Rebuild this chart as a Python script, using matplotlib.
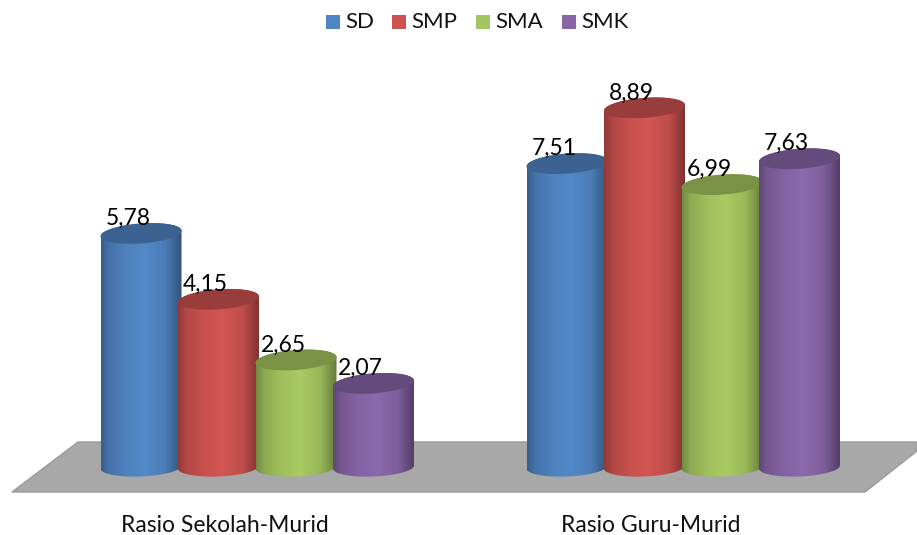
#!/usr/bin/env python3
"""Rasio sekolah-murid dan guru-murid, 3D style cylinder bars."""

import numpy as np
import matplotlib
matplotlib.use("Agg")
import matplotlib.pyplot as plt
from matplotlib.colors import LinearSegmentedColormap, to_rgb
from matplotlib.patches import Polygon, Rectangle

plt.rcParams['font.family'] = ['Lato', 'DejaVu Sans']

groups = ["Rasio Sekolah-Murid", "Rasio Guru-Murid"]
series = ["SD", "SMP", "SMA", "SMK"]
sekolah_murid = [5.78, 4.15, 2.65, 2.07]
guru_murid = [7.51, 8.89, 6.99, 7.63]
labels_sekolah = ["5,78", "4,15", "2,65", "2,07"]
labels_guru = ["7,51", "8,89", "6,99", "7,63"]
colors = ["#5085c4", "#cd5350", "#a3c55f", "#8965a8"]

W, H = 917, 535
BASE_PX = 467      # pixel row of value 0
PX_PER_UNIT = 40.4
RX, RY_TOP, RY_BOT = 40.5, 10, 9.5


def val(py):
	"""Pixel row to value on the y axis."""
	return (BASE_PX - py) / PX_PER_UNIT


def shade(color, f):
	r = np.array(to_rgb(color)) * f
	return tuple(np.clip(r, 0, 1))


def draw_cylinder(ax, cx, value, color, z):
	"""One cylinder: gradient body clipped to the outline, flat darker cap."""
	top = BASE_PX - value * PX_PER_UNIT
	t_up = np.linspace(np.pi, 2 * np.pi, 60)
	t_down = np.linspace(0, np.pi, 60)

	# upper arc of the top ellipse, lower arc of the bottom one
	x_top = cx + RX * np.cos(t_up)
	y_top = top + RY_TOP * np.sin(t_up) - 0.07 * RX * np.cos(t_up)
	x_bot = cx + RX * np.cos(t_down)
	y_bot = BASE_PX + RY_BOT * np.sin(t_down) - 0.04 * RX * np.cos(t_down)
	body = np.column_stack([np.r_[x_top, x_bot], val(np.r_[y_top, y_bot])])

	cmap = LinearSegmentedColormap.from_list("c", [
		(0.0, shade(color, 0.7)), (0.1, shade(color, 0.86)),
		(0.3, shade(color, 0.97)), (0.55, shade(color, 1.03)),
		(0.8, shade(color, 0.93)), (1.0, shade(color, 0.62))])
	im = ax.imshow(np.linspace(0, 1, 128)[None, :], cmap=cmap, aspect='auto',
				   extent=[cx - RX, cx + RX, val(BASE_PX + 14), val(top - 14)],
				   zorder=z)
	clip = Polygon(body, closed=True, transform=ax.transData)
	im.set_clip_path(clip)

	# cap
	t = np.linspace(0, 2 * np.pi, 120)
	x_cap = cx + RX * np.cos(t)
	y_cap = top + RY_TOP * np.sin(t) - 0.07 * RX * np.cos(t)
	ax.add_patch(Polygon(np.column_stack([x_cap, val(y_cap)]), closed=True,
						 facecolor=shade(color, 0.74), edgecolor='none',
						 zorder=z + 0.1))


fig = plt.figure(figsize=(W / 100, H / 100), dpi=100)
ax = fig.add_axes([0, 0, 1, 1])

# floor
floor = [(12, 492), (865, 492), (917, 451), (917, 442), (78, 442)]
ax.add_patch(Polygon([(x, val(y)) for x, y in floor], closed=True,
					 facecolor='#a8a8a8', edgecolor='#9a9a9a', linewidth=1.0,
					 zorder=1))

group_left = [141, 567]
step = 77.5
for g, (values, labels) in enumerate([(sekolah_murid, labels_sekolah),
									  (guru_murid, labels_guru)]):
	for i, (v, lab) in enumerate(zip(values, labels)):
		cx = group_left[g] + i * step
		draw_cylinder(ax, cx, v, colors[i], 2 + i)
		ax.text(cx - 13, v + 15 / PX_PER_UNIT, lab, fontsize=16.5, color='black',
				ha='center', va='center', zorder=10)
	ax.text(225 + g * 425.5, val(525), groups[g], fontsize=16.5, color='#111111',
			ha='center', va='center', zorder=10)

# legend
legend_x = [326, 392, 476, 562]
for x, name, c in zip(legend_x, series, colors):
	ax.add_patch(Rectangle((x, val(29)), 14, 14 / PX_PER_UNIT, facecolor=c,
						   edgecolor='none', zorder=10))
	ax.text(x + 19.5, val(22.5), name, fontsize=16, color='#111111',
			ha='left', va='center', zorder=10)

ax.set_xlim(0, W)
ax.set_ylim(val(H), val(0))
ax.axis('off')

fig.savefig("out.png", dpi=100)
